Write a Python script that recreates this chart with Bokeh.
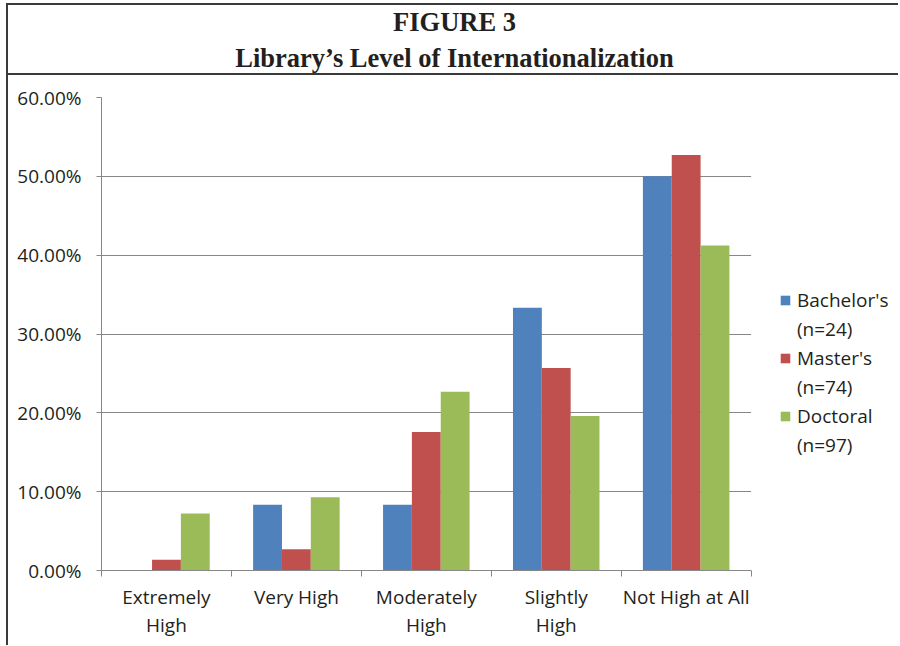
from bokeh.plotting import figure
from bokeh.models import (ColumnDataSource, Range1d, FixedTicker, BoxAnnotation,
                          PrintfTickFormatter, Legend, LegendItem)
from bokeh.transform import dodge
from bokeh.embed import file_html
from bokeh.resources import INLINE
from bokeh.core.properties import value

# ---------------- data ----------------
title_line1 = "FIGURE 3"
title_line2 = "Library’s Level of Internationalization"
categories = ["Extremely High", "Very High", "Moderately High", "Slightly High", "Not High at All"]
category_labels = ["Extremely\nHigh", "Very High", "Moderately\nHigh", "Slightly\nHigh", "Not High at All"]
series_names = ["Bachelor's", "Master's", "Doctoral"]
series_counts = ["(n=24)", "(n=74)", "(n=97)"]
bachelor = [0.00, 8.33, 8.33, 33.33, 50.00]
master = [1.35, 2.70, 17.57, 25.68, 52.70]
doctoral = [7.22, 9.28, 22.68, 19.59, 41.24]
y_ticks = [0, 10, 20, 30, 40, 50, 60]
colors = ["#4F81BD", "#C0504D", "#9BBB59"]

FONT = "Open Sans"
TXT = "#231f20"
GRAY = "#878787"
BORDER = "2px solid #3a3a3a"
BW_PX = 2
W = 892
n = len(categories)
centres = [i + 0.5 for i in range(n)]

# layout constants (pixels)
ML, MR, MT, MB = 93, 0, 22, 75
PLOT_W = 648          # width used by the five category slots
frame_w = W - BW_PX - ML - MR
x_end = n * frame_w / PLOT_W

# ---------------- title panel ----------------
t = figure(width=W, height=72, x_range=Range1d(0, 1), y_range=Range1d(0, 1),
           output_backend="svg", toolbar_location=None, min_border=0,
           x_axis_location=None, y_axis_location=None)
t.styles = {"margin-left": "6px", "margin-top": "3px", "border-top": BORDER,
            "border-left": BORDER, "border-bottom": BORDER}
t.grid.visible = False
t.outline_line_color = None
t.text(x=[0.5, 0.5], y=[0.765, 0.265], text=[title_line1, title_line2],
       text_font=value("Liberation Serif"), text_font_style="bold",
       text_font_size="26.5px", text_align="center", text_baseline="middle",
       text_color=TXT)

# ---------------- chart ----------------
p = figure(width=W, height=570, x_range=Range1d(0, x_end),
           y_range=Range1d(0, 60), output_backend="svg", toolbar_location=None,
           min_border_left=ML, min_border_right=MR,
           min_border_top=MT, min_border_bottom=MB)
p.styles = {"margin-left": "6px", "border-left": BORDER}
p.outline_line_color = None
p.xgrid.visible = False
p.ygrid.ticker = FixedTicker(ticks=y_ticks)
p.ygrid.grid_line_color = GRAY

src = ColumnDataSource(dict(pos=centres, cat=categories, bachelor=bachelor, master=master, doctoral=doctoral))
bw = 0.222
renderers = []
for i, (col, c) in enumerate(zip(["bachelor", "master", "doctoral"], colors)):
    r = p.vbar(x=dodge("pos", (i - 1) * bw), top=col, width=bw,
               source=src, fill_color=c, line_color=None)
    renderers.append(r)

# invisible renderer used for the second (count) line of each legend entry
blank = p.vbar(x=[], top=[], width=bw, fill_alpha=0, line_alpha=0)

# blank out the grid to the right of the plot area (legend region)
p.add_layout(BoxAnnotation(left=n, fill_color="white", fill_alpha=1.0, line_color=None))

# y axis
ya = p.yaxis[0]
ya.ticker = FixedTicker(ticks=y_ticks, minor_ticks=[])
ya.formatter = PrintfTickFormatter(format="%.2f%%")
ya.major_tick_out = 5
ya.major_tick_in = 0
ya.minor_tick_out = 0
ya.minor_tick_in = 0
ya.axis_line_color = GRAY
ya.major_tick_line_color = GRAY
ya.major_label_standoff = 15
ya.major_label_text_font = FONT
ya.major_label_text_font_size = "19px"
ya.major_label_text_color = TXT

# x axis: boundary ticks as minor ticks, category labels at centres
xa = p.xaxis[0]
xa.bounds = (0, n)
xa.ticker = FixedTicker(ticks=centres, minor_ticks=list(range(n + 1)))
xa.major_label_overrides = {c: lbl for c, lbl in zip(centres, category_labels)}
xa.major_tick_out = 0
xa.major_tick_in = 0
xa.minor_tick_out = 6
xa.minor_tick_in = 0
xa.axis_line_color = GRAY
xa.minor_tick_line_color = GRAY
xa.major_label_standoff = 7
xa.major_label_text_font = FONT
xa.major_label_text_font_size = "19px"
xa.major_label_text_color = TXT
xa.major_label_text_line_height = 1.1

items = []
for name, cnt, r in zip(series_names, series_counts, renderers):
    items.append(LegendItem(label=name, renderers=[r]))
    items.append(LegendItem(label=cnt, renderers=[blank]))

legend = Legend(items=items, location=(678, 112), orientation="vertical")
legend.label_text_font = FONT
legend.label_text_font_size = "19px"
legend.label_text_color = TXT
legend.label_text_line_height = 1.13
legend.glyph_width = 12
legend.glyph_height = 12
legend.spacing = 3
legend.padding = 0
legend.margin = 0
legend.border_line_color = None
legend.background_fill_alpha = 0
legend.label_standoff = 6
p.add_layout(legend, "center")

open("out.html", "w").write(file_html([t, p], INLINE))
